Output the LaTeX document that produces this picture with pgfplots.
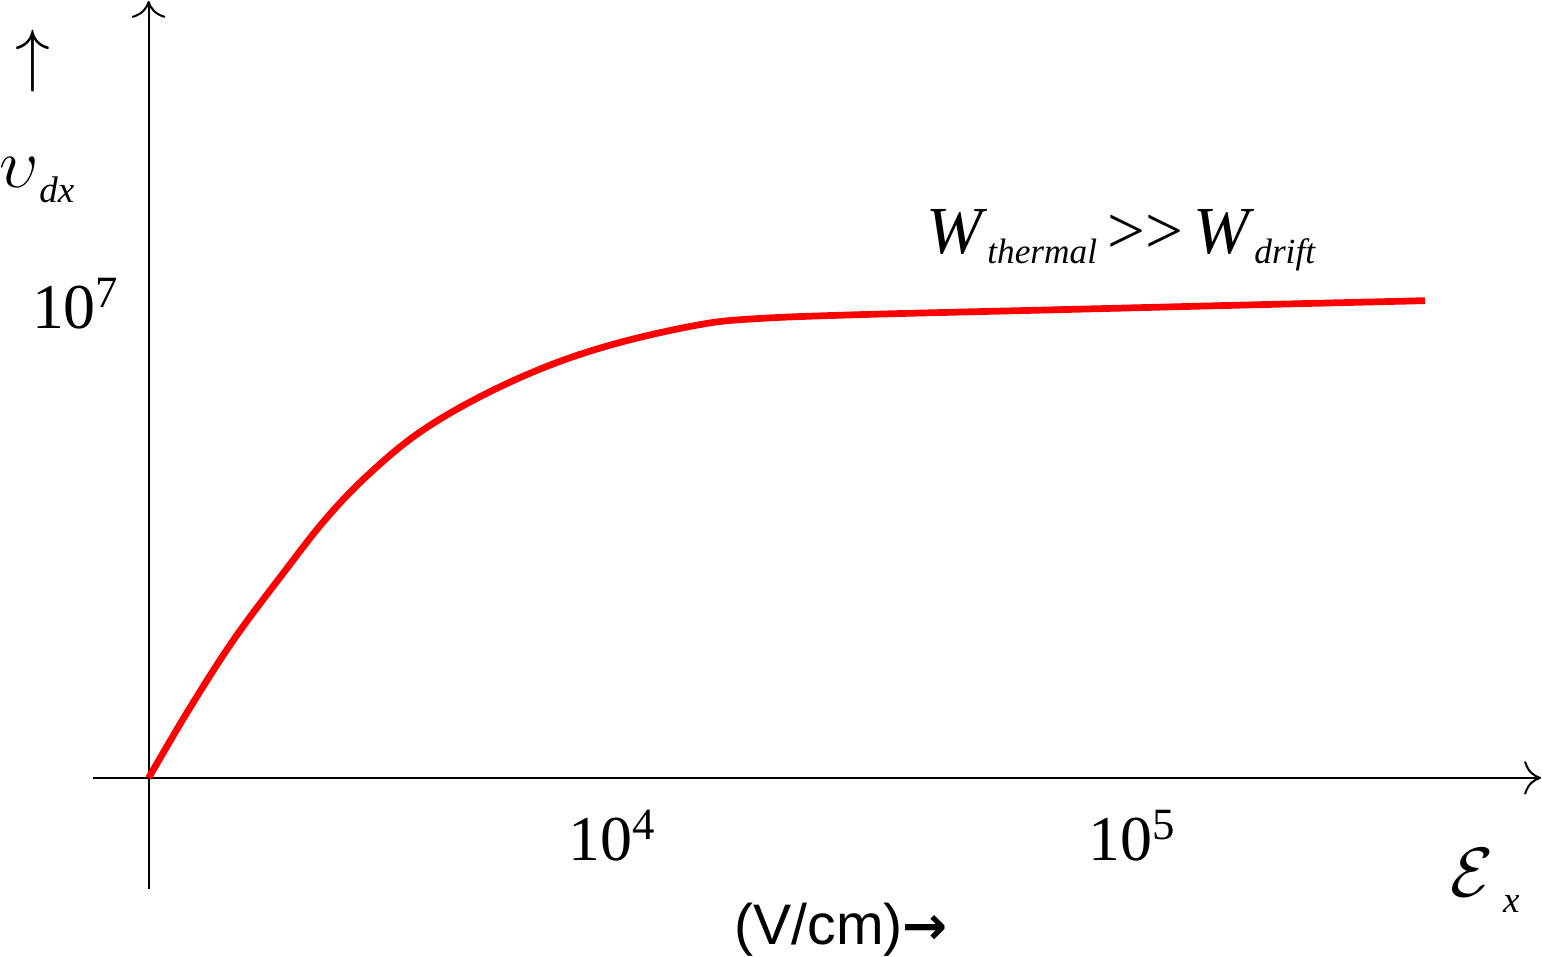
\documentclass[border=0pt]{standalone}
\usepackage{fontspec}
\setmainfont{Liberation Serif}
\newfontfamily\arial{Liberation Sans}
\newfontfamily\dejavu{DejaVu Sans}
\usepackage{pgfplots}
\pgfplotsset{compat=1.18}
\usetikzlibrary{arrows.meta}
\begin{document}
\begin{tikzpicture}
\begin{axis}[
  x=0.3pt, y=0.3pt,
  xmin=-55, xmax=1380, ymin=-110, ymax=770,
  axis lines=middle,
  axis line style={line width=0.6pt, -{To[length=5pt,width=10pt,line width=0.6pt]}},
  clip=false,
  xtick={460,975}, xticklabels={10\textsuperscript{4},10\textsuperscript{5}},
  ytick={470}, yticklabels={10\textsuperscript{7}},
  major tick length=0pt,
  xticklabel style={font=\fontsize{19}{22}\selectfont, yshift=-6pt},
  yticklabel style={font=\fontsize{19}{22}\selectfont, xshift=-5pt},
]
\addplot[red, line width=2pt, smooth, tension=0.6] coordinates {
 (0,0) (40,68) (85,138) (135,205) (175,256) (215,298) (265,340) (325,376)
 (395,408) (465,431) (545,449) (600,455) (700,459) (900,464) (1100,469) (1265,473)
};
\node[anchor=base] at (axis cs:-115,693) {\fontsize{22}{24}\selectfont$\uparrow$};
\node[anchor=base west, inner sep=0pt] at (axis cs:-148,585) {\fontsize{22}{24}\selectfont$\upsilon$\raisebox{-4.5pt}{\fontsize{11}{11}\selectfont\textit{dx}}};
\node[anchor=base west, inner sep=0pt] at (axis cs:770,520) {\fontsize{20}{24}\selectfont\textit{W}\raisebox{-3pt}{\fontsize{10.5}{11}\selectfont\textit{thermal}}\hspace{3pt}{>}{>}\hspace{3pt}\textit{W}\raisebox{-3pt}{\fontsize{10.5}{11}\selectfont\textit{drift}}};
\node[anchor=base west, inner sep=0pt] at (axis cs:1290,-118) {\fontsize{22}{24}\selectfont$\mathcal{E}$\raisebox{-4.5pt}{\fontsize{11}{11}\selectfont\ \textit{x}}};
\node[anchor=base west, inner sep=0pt] at (axis cs:580,-165) {\arial\fontsize{17}{20}\selectfont (V/cm){\dejavu\bfseries\fontsize{16}{20}\selectfont →}};
\end{axis}
\end{tikzpicture}
\end{document}
